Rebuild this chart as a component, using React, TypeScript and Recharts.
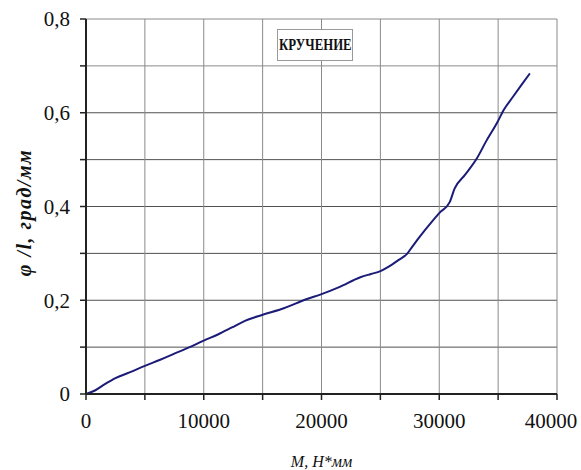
import React from 'react'
import {
  LineChart, Line, XAxis, YAxis, ReferenceLine, Label
} from 'recharts'

// torsion test: relative twist angle vs torque
const torque = [
  0, 800, 1600, 2500, 3700, 5000, 6300, 7500, 8800, 10000, 11200, 12400, 13500, 15000,
  16800, 18700, 20000, 21500, 23300, 24200, 25000, 25600, 26500, 27300, 27700, 28800,
  30000, 30900, 31300, 32200, 33200, 34000, 34900, 35500, 36200, 37000, 37700,
]
const twist = [
  0, 0.008, 0.021, 0.034, 0.046, 0.06, 0.073, 0.086, 0.1, 0.114, 0.127, 0.142, 0.156, 0.169,
  0.183, 0.202, 0.213, 0.228, 0.249, 0.256, 0.262, 0.27, 0.285, 0.3, 0.314, 0.35,
  0.386, 0.41, 0.438, 0.468, 0.503, 0.54, 0.578, 0.607, 0.632, 0.66, 0.684,
]

const xTicks = [0, 5000, 10000, 15000, 20000, 25000, 30000, 35000, 40000]
const yTicks = [0, 0.1, 0.2, 0.3, 0.4, 0.5, 0.6, 0.7, 0.8]
const xGrid = [5000, 10000, 15000, 20000, 25000, 30000, 35000, 40000]
const yGrid = [0.1, 0.2, 0.3, 0.4, 0.5, 0.6, 0.7, 0.8]

const seriesName = 'КРУЧЕНИЕ'
const xTitle = 'М, Н*мм'
const yTitle = 'φ /l,  град/мм'

const data = torque.map((m, i) => ({ m, phi: twist[i] }))

const FONT = 'Liberation Serif, Times New Roman, DejaVu Serif, serif'
const tickStyle = { fill: '#111', fontSize: 21, fontFamily: FONT }
const CHART_W = 581

const fmtY = (v: number) => {
  if (Math.round(v * 10) % 2 !== 0) return ''
  return v === 0 ? '0' : v.toFixed(1).replace('.', ',')
}

// x tick label: only every 10000, kept inside the picture at the right edge
const XTick = ({ x, y, payload }: any) => {
  const v = payload.value
  if (v % 10000 !== 0) return null
  const cx = Math.min(x, CHART_W - 30)
  return (
    <text x={cx} y={y + 11} dy="0.71em" textAnchor="middle" {...tickStyle}>{String(v)}</text>
  )
}

const YTitle = ({ viewBox }: any) => {
  const x = viewBox.x + 31
  const y = viewBox.y + viewBox.height / 2 + 6
  return (
    <text x={x} y={y} transform={`rotate(-90, ${x}, ${y})`} textAnchor="middle"
      fontFamily={FONT} fontSize={20} fontWeight={700} fontStyle="italic" fill="#111"
      letterSpacing={1.5}>
      {yTitle}
    </text>
  )
}

export default function App() {
  return (
    <div style={{ position: 'absolute', left: 0, top: 0, background: '#fff', fontFamily: FONT }}>
      <LineChart width={CHART_W} height={470} data={data}
        margin={{ top: 19, right: 24, bottom: 0, left: 0 }}>
        {yGrid.map(v => (
          <ReferenceLine key={'h' + v} y={v} stroke={v === 0.7 || v === 0.8 ? '#8a8a8a' : '#505050'} strokeWidth={1} />
        ))}
        {xGrid.map(v => (
          <ReferenceLine key={'v' + v} x={v} stroke="#8a8a8a" strokeWidth={1} />
        ))}
        <XAxis dataKey="m" type="number" domain={[0, 40000]} ticks={xTicks} interval={0}
          tick={<XTick />} height={76} tickSize={6}
          axisLine={{ stroke: '#222', strokeWidth: 2 }} tickLine={{ stroke: '#222', strokeWidth: 1.5 }}>
          <Label value={xTitle} position="insideBottom" offset={3}
            style={{ fontFamily: FONT, fontSize: 16, fontStyle: 'italic', fill: '#111' }} />
        </XAxis>
        <YAxis type="number" domain={[0, 0.8]} ticks={yTicks} interval={0}
          tickFormatter={fmtY} tick={tickStyle} width={86} tickSize={6} tickMargin={10}
          axisLine={{ stroke: '#222', strokeWidth: 2 }} tickLine={{ stroke: '#222', strokeWidth: 1.5 }}>
          <Label content={YTitle} />
        </YAxis>
        <Line type="monotone" dataKey="phi" name={seriesName} stroke="#1b1b78" strokeWidth={2}
          dot={false} isAnimationActive={false} />
      </LineChart>
      {/* series caption box */}
      <div style={{
        position: 'absolute', left: 277, top: 29, width: 74, height: 30,
        border: '1px solid #999', background: '#fff',
        display: 'flex', alignItems: 'center', justifyContent: 'center', overflow: 'hidden',
      }}>
        <span style={{
          fontWeight: 700, fontSize: 16, color: '#111',
          display: 'inline-block', transform: 'scaleX(0.8)', whiteSpace: 'nowrap',
        }}>{seriesName}</span>
      </div>
    </div>
  )
}
